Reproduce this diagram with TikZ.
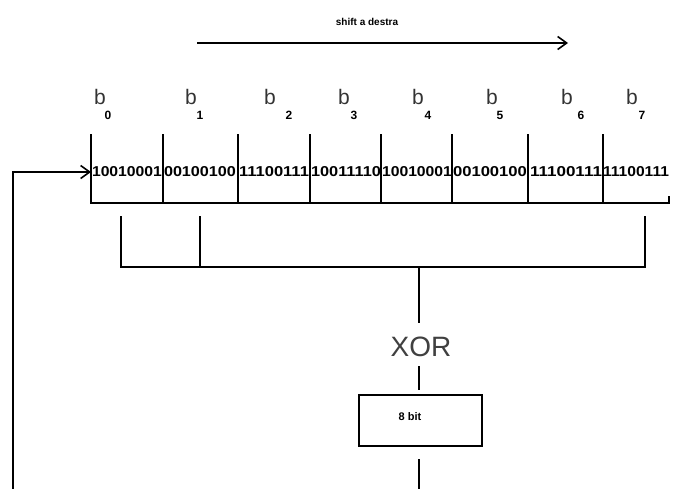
\documentclass[tikz,border=0pt]{standalone}
\usepackage{fontspec}
\setmainfont{Liberation Sans}
\usetikzlibrary{arrows.meta}
\begin{document}
\begin{tikzpicture}[x=1pt,y=-1pt,
  wire/.style={line width=2.2pt,line cap=rect},
  barb/.style={-{Straight Barb[length=9pt,width=13pt,line width=1.6pt]}},
  bitlabel/.style={font=\fontsize{21}{21}\selectfont,text=black!80,inner sep=0pt},
  bitidx/.style={font=\fontsize{12}{12}\selectfont\bfseries,inner sep=0pt},
  cellbits/.style={font=\fontsize{12}{12}\selectfont\bfseries,inner sep=0pt},
  regbox/.style={draw,line width=2pt,minimum width=123pt,minimum height=51pt,inner sep=0pt}
]
\useasboundingbox (0,0) rectangle (676,488);

% shift direction
\node[font=\fontsize{10}{10}\selectfont\bfseries,inner sep=0pt] (shiftlbl) at (367,22) {shift a destra};
\coordinate (shA) at (198,43);
\coordinate (shB) at (568,43);
\draw[wire,barb] (shA) -- (shB);

% bit names b0..b7
\foreach \i/\bx/\nx in {0/100/108,1/191/200,2/270/289,3/344/354,4/418/428,5/492/500,6/567/581,7/632/642}{
  \node[bitlabel] (b\i) at (\bx,97) {b};
  \node[bitidx] (n\i) at (\nx,115) {\i};
}

% register cells: separators and bottom rail
\foreach \i/\cx in {0/91,1/163,2/238,3/310,4/381,5/452,6/528,7/603}{
  \coordinate (top\i) at (\cx,135);
  \coordinate (bot\i) at (\cx,203);
  \draw[wire] (top\i) -- (bot\i);
}
\coordinate (botend) at (669,203);
\coordinate (tickend) at (669,197);
\draw[wire] (bot0) -- (botend) -- (tickend);

% cell contents
\foreach \i/\mx/\w/\bits in {0/127/70/10010001,1/200/72/00100100,2/274/70/11100111,3/346/70/10011110,
                             4/417/70/10010001,5/490/74/00100100,6/566/72/11100111,7/636/66/11100111}{
  \node[cellbits] (c\i) at (\mx,172) {\resizebox{\w pt}{10pt}{\bits}};
}

% taps from b0, b1, b7 to the XOR
\coordinate (t0) at (121,217);
\coordinate (t1) at (200,217);
\coordinate (t7) at (645,217);
\coordinate (j0) at (121,267);
\coordinate (j1) at (200,267);
\coordinate (j7) at (645,267);
\coordinate (jx) at (419,267);
\draw[wire] (t0) -- (j0) -- (j1);
\draw[wire] (t1) -- (j1) -- (j7) -- (t7);

\node[font=\fontsize{28}{28}\selectfont,text=black!75,inner sep=2pt] (xor) at (421,347) {XOR};
\coordinate (xorin) at (419,322);
\draw[wire] (jx) -- (xorin);

\node[regbox] (reg) at (420.5,420.5) {};
\node[font=\fontsize{11}{11}\selectfont\bfseries,inner sep=0pt] (regtxt) at (410,417) {8 bit};
\coordinate (xorout) at (419,367);
\coordinate (regin) at (419,389);
\draw[wire] (xorout) -- (regin);

% feedback into b0
\coordinate (fbA) at (419,460);
\coordinate (fbB) at (419,488);
\draw[wire] (fbA) -- (fbB);
\coordinate (fbL) at (13,488);
\coordinate (fbC) at (13,172);
\coordinate (fbIn) at (91,172);
\draw[wire,barb] (fbL) -- (fbC) -- (fbIn);
\end{tikzpicture}
\end{document}
